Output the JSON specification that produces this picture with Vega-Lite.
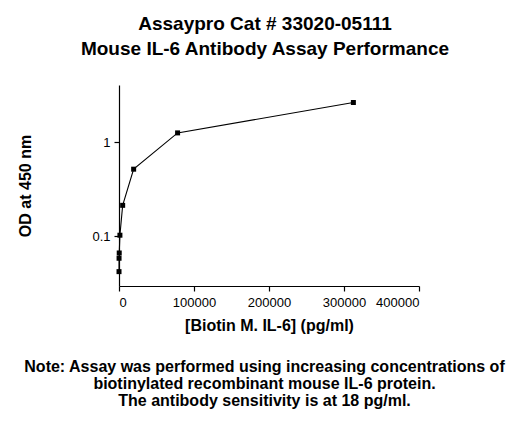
{
  "$schema": "https://vega.github.io/schema/vega-lite/v6.json",
  "width": 300,
  "height": 201,
  "autosize": {"type": "none"},
  "padding": {"left": 119, "top": 85, "right": 111, "bottom": 139},
  "background": "white",
  "title": {
    "text": ["Assaypro Cat # 33020-05111", "Mouse IL-6 Antibody Assay Performance"],
    "font": "Liberation Sans",
    "fontSize": 19,
    "fontWeight": "bold",
    "color": "black",
    "lineHeight": 25,
    "anchor": "middle",
    "offset": 26,
    "dx": -4
  },
  "config": {
    "view": {"stroke": null},
    "axis": {
      "grid": false,
      "domainColor": "black",
      "tickColor": "black",
      "labelColor": "black",
      "titleColor": "black",
      "labelFont": "Liberation Sans",
      "titleFont": "Liberation Sans",
      "labelFontSize": 13,
      "titleFontSize": 16,
      "titleFontWeight": "bold",
      "tickSize": 5,
      "domainWidth": 1.2,
      "tickWidth": 1.2
    }
  },
  "data": {
    "values": [
      {"conc": 19, "od": 0.0418},
      {"conc": 76, "od": 0.058},
      {"conc": 305, "od": 0.066},
      {"conc": 1221, "od": 0.102},
      {"conc": 4883, "od": 0.212},
      {"conc": 19531, "od": 0.514},
      {"conc": 78125, "od": 1.25},
      {"conc": 312500, "od": 2.63}
    ]
  },
  "encoding": {
    "y": {
      "field": "od",
      "type": "quantitative",
      "scale": {"type": "log", "domain": [0.0294, 4.04], "nice": false},
      "axis": {
        "values": [0.1, 1],
        "format": "~g",
        "labelPadding": 4,
        "title": "OD at 450 nm",
        "titlePadding": 58
      }
    }
  },
  "layer": [
    {
      "mark": {"type": "line", "color": "black", "strokeWidth": 1.1},
      "encoding": {
        "x": {
          "field": "conc",
          "type": "quantitative",
          "scale": {"domain": [0, 400000], "nice": false},
          "axis": {
            "values": [0, 100000, 200000, 300000, 400000],
            "format": "d",
            "labelPadding": 5,
            "title": "[Biotin M. IL-6] (pg/ml)",
            "titlePadding": 8
          }
        }
      }
    },
    {
      "mark": {"type": "point", "shape": "square", "filled": true, "color": "black", "opacity": 1, "size": 25},
      "encoding": {
        "x": {
          "field": "conc",
          "type": "quantitative",
          "scale": {"domain": [0, 400000], "nice": false},
          "axis": {
            "orient": "bottom",
            "domain": false,
            "ticks": false,
            "labels": false,
            "title": [
              "Note: Assay was performed using increasing concentrations of",
              "biotinylated recombinant mouse IL-6 protein.",
              "The antibody sensitivity is at 18 pg/ml."
            ],
            "titleLineHeight": 17.4,
            "titlePadding": 72,
            "titleX": 145,
            "titleLimit": 2000
          }
        }
      }
    }
  ],
  "resolve": {"scale": {"x": "independent"}, "axis": {"x": "independent"}}
}
